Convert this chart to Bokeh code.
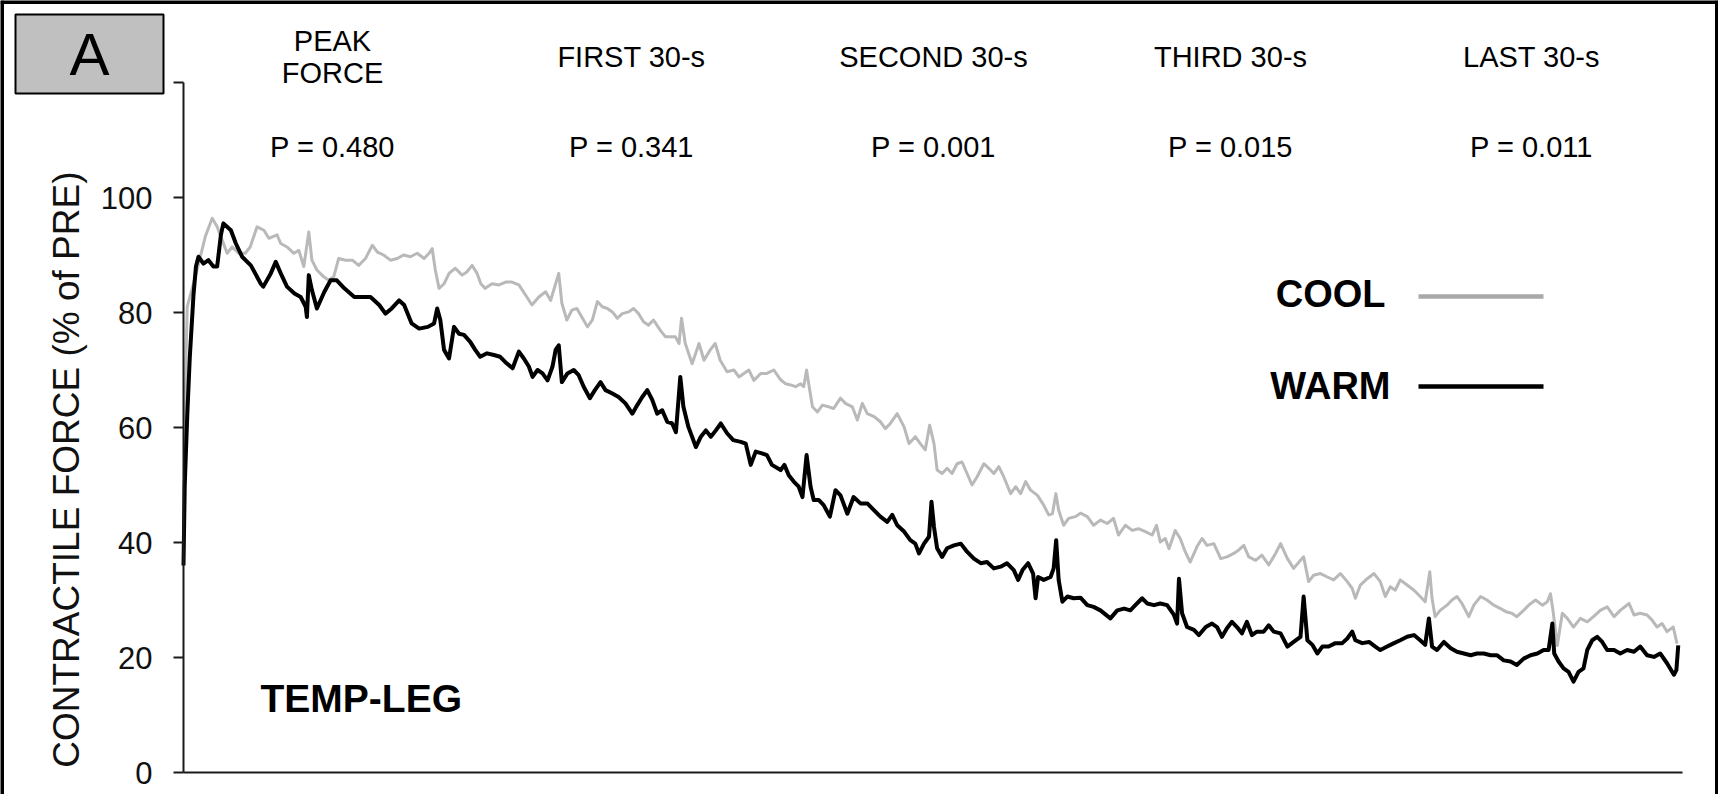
from bokeh.plotting import figure
from bokeh.models import Label, FixedTicker, Range1d
from bokeh.embed import file_html
from bokeh.resources import INLINE

# ---------------- data ----------------
warm_time = [0.0, 0.1, 0.3, 0.5, 0.8, 1.0, 1.2, 1.6, 2.0, 2.4, 2.7, 3.0, 3.2, 3.8, 4.2, 4.7, 5.4, 6.2, 6.4, 7.0,
             7.4, 7.8, 8.3, 8.9, 9.4, 9.8, 9.9, 10.05, 10.3, 10.7, 11.3, 11.8, 12.3, 12.9, 13.7, 14.3, 15.0, 15.7, 16.2, 16.7,
             17.3, 17.7, 18.3, 18.9, 19.6, 20.1, 20.35, 20.6, 20.9, 21.3, 21.7, 22.1, 22.5, 23.0, 23.4, 23.8,
             24.35, 24.9, 25.4, 25.8, 26.4, 26.9, 27.3, 27.7, 28.0, 28.4, 28.8, 29.2, 29.6, 29.85, 30.1, 30.35, 30.8, 31.3,
             31.7, 32.1, 32.6, 33.0, 33.45, 33.85, 34.4, 34.9, 35.45, 36.0, 36.4, 36.8, 37.2, 37.6, 38.0, 38.4, 38.8, 39.2,
             39.5, 39.85, 40.1, 40.5, 41.1, 41.5, 41.9, 42.3, 42.7, 43.1, 43.6, 44.1, 44.7, 45.1, 45.5, 45.9, 46.4, 46.8,
             47.2, 47.9,
             48.2, 48.55, 48.95, 49.35, 49.65, 49.98, 50.3, 50.55, 50.95, 51.35, 51.85, 52.3, 52.7, 53.25, 53.75, 54.3,
             54.85, 55.4, 55.9, 56.45, 56.85, 57.25, 57.8, 58.3, 58.7, 59.0, 59.4, 59.8, 60.0, 60.2, 60.45, 60.85, 61.25,
             61.8, 62.35, 62.85, 63.4, 63.95, 64.45, 65.0, 65.55, 66.05, 66.6, 66.95, 67.3, 67.75, 68.15, 68.35, 68.55,
             69.0, 69.55, 69.8, 70.0, 70.2, 70.5, 70.9, 71.4, 71.95,
             72.5, 73.0, 73.55, 74.35, 74.9, 75.45, 75.95, 76.35, 76.9, 77.3, 77.85, 78.35, 78.9, 79.45, 79.7, 79.85, 80.1,
             80.5, 81.05, 81.45, 82.0, 82.5, 82.9, 83.3, 83.7, 84.1, 84.5, 84.9, 85.3, 85.7, 86.1, 86.65, 87.05, 87.45,
             88.0, 88.55, 89.05, 89.6, 89.85, 90.15, 90.55, 90.95, 91.35, 91.85, 92.4, 92.95, 93.35, 93.75, 94.0, 94.55,
             95.1, 95.6, 96.0,
             96.55, 97.1, 97.6, 98.15, 98.7, 99.2, 99.6, 99.9, 100.15, 100.55, 101.1, 101.65, 102.15, 102.7, 103.25,
             103.75, 104.3, 104.85, 105.35, 105.9, 106.45, 106.95, 107.5, 108.05, 108.6, 109.1, 109.5, 109.8, 109.95,
             110.3, 110.7, 111.1, 111.5, 111.9, 112.3, 112.6, 113.0, 113.4, 113.8, 114.2, 114.75, 115.25, 115.8, 116.35,
             116.85, 117.4, 117.95, 118.45, 119.0, 119.55, 119.75, 119.9]
warm_force = [36.0, 50.0, 62.0, 72.0, 83.0, 88.0, 89.7, 88.5, 89.1, 88.0, 88.0, 93.5, 95.5, 94.3, 92.0, 89.7, 88.2, 85.0, 84.5, 86.8,
              88.8, 86.8, 84.5, 83.3, 82.7, 81.0, 79.2, 86.5, 83.9, 80.7, 83.6, 85.6, 85.6, 84.2, 82.7, 82.7, 82.7, 81.3, 79.8, 80.7,
              82.1, 81.3, 78.1, 77.2, 77.5, 78.1, 80.7, 78.7, 73.5, 72.0, 77.5, 76.3, 76.1, 74.9, 73.5, 72.3,
              72.9, 72.6, 72.3, 71.4, 70.3, 73.2, 72.0, 70.6, 68.8, 70.0, 69.4, 68.2, 70.6, 73.5, 74.3, 67.9, 69.4, 70.0,
              69.1, 67.1, 65.1, 66.5, 67.9, 66.5, 65.9, 65.3, 64.2, 62.4, 63.9, 65.3, 66.5, 64.8, 62.4, 63.0, 61.0, 60.7,
              59.2, 68.8, 63.6, 60.1, 56.6, 58.4, 59.5, 58.4, 59.5, 60.7, 59.0, 57.8, 57.5, 57.2, 53.5, 55.8, 55.5, 55.2,
              53.5, 52.6,
              53.5, 51.7, 50.6, 49.7, 47.9, 55.2, 49.7, 47.4, 47.4, 46.5, 44.5, 49.1, 48.2, 45.0, 47.9, 46.8,
              46.8, 45.6, 44.5, 43.6, 44.8, 43.0, 41.9, 40.4, 39.8, 38.1, 39.8, 41.0, 47.1, 42.7, 39.0, 37.5, 39.0,
              39.5, 39.8, 38.4, 37.2, 36.4, 36.6, 35.5, 35.8, 36.4, 35.2, 33.5, 35.2, 36.4, 34.6, 30.3, 34.0,
              33.5, 34.0, 35.5, 40.4, 33.5, 29.7, 30.6, 30.3, 30.4,
              29.1, 28.8, 28.2, 26.8, 28.2, 28.5, 28.2, 29.1, 30.3, 29.4, 29.1, 29.4, 29.1, 27.4, 25.9, 33.7, 27.7,
              25.3, 24.8, 23.9, 25.3, 25.9, 25.3, 23.6, 25.1, 26.2, 25.3, 24.2, 26.2, 23.9, 24.5, 24.5, 25.6, 24.5,
              24.2, 21.9, 22.7, 23.6, 30.6, 23.0, 22.2, 20.7, 21.9, 21.9, 22.5, 22.5, 23.3, 24.5, 23.0, 22.5,
              22.7, 21.9, 21.3,
              21.9, 22.5, 23.0, 23.6, 23.9, 23.0, 22.2, 26.8, 21.9, 21.3, 22.7, 21.6, 21.0, 20.7, 20.4,
              20.7, 20.7, 20.4, 20.4, 19.5, 19.3, 18.7, 19.8, 20.4, 20.7, 21.3, 21.3, 25.9, 20.7,
              19.3, 18.1, 17.5, 15.8, 17.5, 18.1, 21.3, 23.0, 23.6, 22.7, 21.3, 21.3, 20.7, 21.3, 21.0,
              21.9, 20.4, 20.1, 20.7, 19.0, 17.0, 17.8, 22.1]

cool_time = [0.0, 0.1, 0.2, 0.3, 0.8, 1.35, 1.75, 2.3, 2.7, 3.1, 3.5, 3.9, 4.45, 4.95, 5.35, 5.9, 6.45, 6.85, 7.5, 7.8,
             8.3, 8.85, 9.25, 9.65, 10.05, 10.3, 10.7, 11.25, 11.65, 12.05, 12.45, 13.0, 13.55, 14.05, 14.6, 15.15, 15.55,
             16.05, 16.6, 17.15, 17.65, 18.2, 18.75, 19.3, 19.7, 19.95, 20.2, 20.5, 20.9, 21.3, 21.8, 22.35, 22.75, 23.15,
             23.55, 23.85,
             24.2, 24.75, 25.3, 25.85, 26.35, 26.9, 27.45, 27.95, 28.5, 29.05, 29.45, 29.85, 30.1, 30.35, 30.75, 31.15,
             31.55, 31.95, 32.4, 32.8, 33.2, 33.6, 34.0, 34.4, 34.8, 35.2, 35.7, 36.1, 36.5, 36.9, 37.3, 37.7, 38.25,
             38.65, 39.05, 39.45, 39.75, 39.95, 40.25, 40.8, 41.35, 41.75, 42.25, 42.65, 43.05, 43.6, 44.15, 44.55, 44.95,
             45.35, 45.75, 46.3, 46.8, 47.35, 47.9,
             48.3, 48.7, 49.1, 49.5, 49.75, 49.98, 50.15, 50.45, 50.85, 51.25, 51.75, 52.15, 52.7, 53.1, 53.65, 54.05,
             54.45, 54.85, 55.4, 55.9, 56.3, 56.7, 57.25, 57.8, 58.2, 58.7, 59.1, 59.5, 59.85, 60.2, 60.45, 60.85, 61.25,
             61.65, 62.05, 62.45, 62.85, 63.25, 63.65, 64.2, 64.6, 65.0, 65.4, 65.8, 66.35, 66.75, 67.15, 67.55, 67.95,
             68.5, 69.0, 69.4, 69.7, 69.98, 70.2, 70.6, 71.0, 71.55, 71.95,
             72.5, 73.0, 73.55, 74.1, 74.6, 75.0, 75.55, 76.1, 76.6, 77.15, 77.7, 78.05, 78.35, 78.75, 79.05, 79.55, 79.95,
             80.35, 80.75, 81.3, 81.7, 82.1, 82.65, 83.2, 83.7, 84.25, 84.65, 85.05, 85.45, 86.0, 86.5, 87.05, 87.6, 88.0,
             88.55, 89.05, 89.6, 89.85, 90.25, 90.65, 91.2, 91.75, 92.25, 92.8, 93.35, 93.75, 94.0, 94.4, 94.95, 95.5, 96.0,
             96.4, 96.8, 97.2, 97.6, 98.15, 98.7, 99.2, 99.6, 99.97, 100.15, 100.4, 100.8, 101.35, 101.75, 102.15, 102.55,
             103.1, 103.5, 104.05, 104.55, 105.1, 105.65, 106.15, 106.55, 106.95, 107.5, 107.9, 108.45, 109.0, 109.4,
             109.65, 109.85, 110.2, 110.6, 111.0, 111.5, 112.05, 112.6, 113.1, 113.65, 114.2, 114.75, 115.25, 115.95,
             116.35, 116.85, 117.4, 117.8, 118.2, 118.6, 119.0, 119.5, 119.8]
cool_force = [40.0, 60.0, 72.0, 81.0, 85.0, 89.7, 93.2, 96.4, 94.9, 92.6, 90.3, 91.4, 90.3, 90.3, 91.4, 94.9, 94.3, 92.9, 93.5, 92.0,
              91.4, 90.3, 90.8, 88.0, 94.0, 89.1, 87.4, 86.2, 85.6, 86.2, 89.4, 89.1, 89.1, 88.2, 89.4, 91.7, 90.5,
              90.0, 89.1, 89.4, 90.0, 89.7, 90.3, 89.4, 90.3, 91.1, 87.4, 84.2, 85.0, 86.8, 87.7, 86.5, 87.1, 88.2,
              86.8, 85.0,
              84.2, 85.0, 84.8, 85.3, 85.3, 84.8, 83.0, 81.3, 82.7, 83.6, 82.1, 85.0, 86.8, 81.6, 78.7, 80.4,
              80.7, 79.2, 77.5, 78.7, 81.9, 81.0, 80.7, 80.1, 79.0, 79.8, 80.1, 80.7, 79.8, 78.4, 77.8, 78.7, 76.9,
              75.8, 75.8, 75.8, 74.6, 79.0, 74.6, 71.1, 74.6, 71.7, 73.5, 74.6, 71.7, 69.7, 70.0, 68.8, 69.4,
              70.0, 68.2, 69.4, 69.4, 70.0, 68.3,
              67.6, 67.4, 67.1, 67.6, 67.1, 70.0, 67.6, 63.6, 62.7, 63.9, 63.6, 63.3, 65.1, 64.2, 63.6, 61.3,
              64.2, 62.4, 61.9, 61.0, 59.8, 60.7, 62.4, 60.1, 57.2, 58.4, 57.2, 56.1, 60.4, 57.2, 52.6, 52.0, 52.9,
              52.0, 53.7, 54.0, 52.0, 50.0, 51.4, 53.7, 52.9, 52.0, 53.2, 51.4, 48.5, 49.7, 48.5, 50.6, 49.1,
              48.2, 46.5, 44.8, 45.0, 48.5, 45.6, 43.0, 44.2, 44.5, 45.1,
              44.5, 43.0, 43.9, 43.3, 44.2, 41.3, 43.0, 42.1, 42.4, 41.9, 41.3, 43.0, 40.1, 40.7, 38.9, 42.1, 40.7,
              38.4, 36.6, 39.3, 40.7, 39.5, 39.8, 37.2, 37.5, 38.1, 38.7, 39.5, 37.5, 36.9, 37.8, 36.1, 38.1, 39.8,
              37.2, 35.5, 36.9, 37.5, 33.2, 34.3, 34.6, 34.0, 33.5, 34.6, 33.2, 32.0, 30.3, 32.6, 33.7, 34.6, 33.2,
              30.6, 32.3, 31.7, 33.5, 32.6, 31.7, 30.6, 29.7, 34.9, 30.3, 27.1, 28.2, 29.1, 30.0, 30.6, 29.4,
              27.1, 29.1, 30.6, 30.0, 29.1, 28.5, 27.9, 27.7, 27.1, 28.2, 29.1, 30.0, 29.1, 29.7,
              31.1, 28.2, 22.1, 27.7, 26.8, 25.3, 26.8, 26.2, 27.1, 28.2, 28.8, 27.1, 28.2, 29.4,
              27.4, 27.7, 27.4, 26.5, 25.3, 25.9, 24.5, 25.3, 22.4]

y_ticks = [0, 20, 40, 60, 80, 100, 120]
y_hidden_tick = 120
y_max = 120
t_max = 120
phase_titles = ["PEAK\nFORCE", "FIRST 30-s", "SECOND 30-s", "THIRD 30-s", "LAST 30-s"]
p_values = ["P = 0.480", "P = 0.341", "P = 0.001", "P = 0.015", "P = 0.011"]
series_names = ["COOL", "WARM"]
panel_letter = "A"
condition = "TEMP-LEG"
y_title = "CONTRACTILE FORCE  (% of PRE)"

# ---------------- layout (canvas pixel -> data) ----------------
FONT = "Liberation Sans"
W, H = 1718, 794
AX_L, AX_B, AX_T, AX_R = 183, 772, 82, 1682   # axis positions in canvas pixels
PX_PER_S = (1679 - AX_L) / t_max
PX_PER_UNIT = (AX_B - AX_T) / y_max


def sx(px):
    return (px - AX_L) / PX_PER_S


def sy(py):
    return (AX_B - py) / PX_PER_UNIT


X0, X1 = sx(0), sx(W)
Y0, Y1 = sy(H), sy(0)

p = figure(width=W, height=H, output_backend="svg", toolbar_location=None,
           x_range=Range1d(X0, X1), y_range=Range1d(Y0, Y1), min_border=0,
           min_border_left=0, min_border_right=0, min_border_top=0, min_border_bottom=0)
p.background_fill_color = "white"
p.border_fill_color = "white"
p.outline_line_color = None
p.grid.visible = False

# y axis (drawn at x = 0, limited to 0..120)
p.yaxis.fixed_location = 0
p.yaxis.bounds = (0, y_max)
p.yaxis.ticker = FixedTicker(ticks=y_ticks)
p.yaxis.major_label_overrides = {y_hidden_tick: ""}
p.yaxis.minor_tick_line_color = None
p.yaxis.major_tick_in = 0
p.yaxis.major_tick_out = 10
p.yaxis.major_tick_line_width = 2
p.yaxis.major_tick_line_color = "#1a1a1a"
p.yaxis.axis_line_width = 2
p.yaxis.axis_line_color = "#1a1a1a"
p.yaxis.major_label_text_font = FONT
p.yaxis.major_label_text_font_size = "31px"
p.yaxis.major_label_text_color = "#111111"
p.yaxis.major_label_standoff = 21

# x axis: line only, at y = 0
p.xaxis.fixed_location = 0
p.xaxis.bounds = (0, sx(AX_R))
p.xaxis.ticker = FixedTicker(ticks=[])
p.xaxis.minor_tick_line_color = None
p.xaxis.major_tick_out = 0
p.xaxis.major_tick_in = 0
p.xaxis.major_label_standoff = 0
p.xaxis.axis_line_width = 2
p.xaxis.axis_line_color = "#1a1a1a"

# outer frame (top, left, right)
p.segment(x0=[X0, X0, X1], y0=[Y1, Y0, Y0], x1=[X1, X0, X1], y1=[Y1, Y1, Y1],
          line_color="black", line_width=7)

# data
COOL_C = "#b9b9b9"
WARM_C = "#000000"
p.line(cool_time, cool_force, line_color=COOL_C, line_width=3, line_join="round")
p.line(warm_time, warm_force, line_color=WARM_C, line_width=4, line_join="round")

# legend (label left of sample line)
p.segment(x0=[sx(1418), sx(1418)], y0=[sy(296), sy(386)], x1=[sx(1543), sx(1543)], y1=[sy(296), sy(386)],
          line_color=["#a9a9a9", "#000000"], line_width=4.5)
for name, right, cy in zip(series_names, [1385, 1390], [293, 385]):
    p.add_layout(Label(x=sx(right), y=sy(cy), text=name, text_font=FONT, text_font_size="38px",
                       text_font_style="bold", text_align="right", text_baseline="middle", text_color="black"))

# phase titles and p values
col_x = [332, 631, 933, 1230, 1531]
for cx, title, pv in zip(col_x, phase_titles, p_values):
    lines = title.split("\n")
    ys = [56] if len(lines) == 1 else [40, 72]
    for ln, cy in zip(lines, ys):
        p.add_layout(Label(x=sx(cx), y=sy(cy), text=ln, text_font=FONT, text_font_size="29px",
                           text_align="center", text_baseline="middle", text_color="black"))
    p.add_layout(Label(x=sx(cx), y=sy(146), text=pv, text_font=FONT, text_font_size="29px",
                       text_align="center", text_baseline="middle", text_color="black"))

# condition label
p.add_layout(Label(x=sx(260), y=sy(698), text=condition, text_font=FONT, text_font_size="39px",
                   text_font_style="bold", text_align="left", text_baseline="middle", text_color="black"))

# y-axis title
p.add_layout(Label(x=sx(66), y=sy(464), text=y_title, text_font=FONT, text_font_size="37px",
                   angle=90, angle_units="deg", text_align="center", text_baseline="middle",
                   text_color="#111111"))

# panel letter box
p.quad(left=[sx(15)], right=[sx(163)], top=[sy(14)], bottom=[sy(93)],
       fill_color="#c0c0c0", line_color="black", line_width=2)
p.add_layout(Label(x=sx(89), y=sy(53.5), text=panel_letter, text_font=FONT, text_font_size="60px",
                   text_align="center", text_baseline="middle", text_color="black"))

open("out.html", "w").write(file_html(p, INLINE))
